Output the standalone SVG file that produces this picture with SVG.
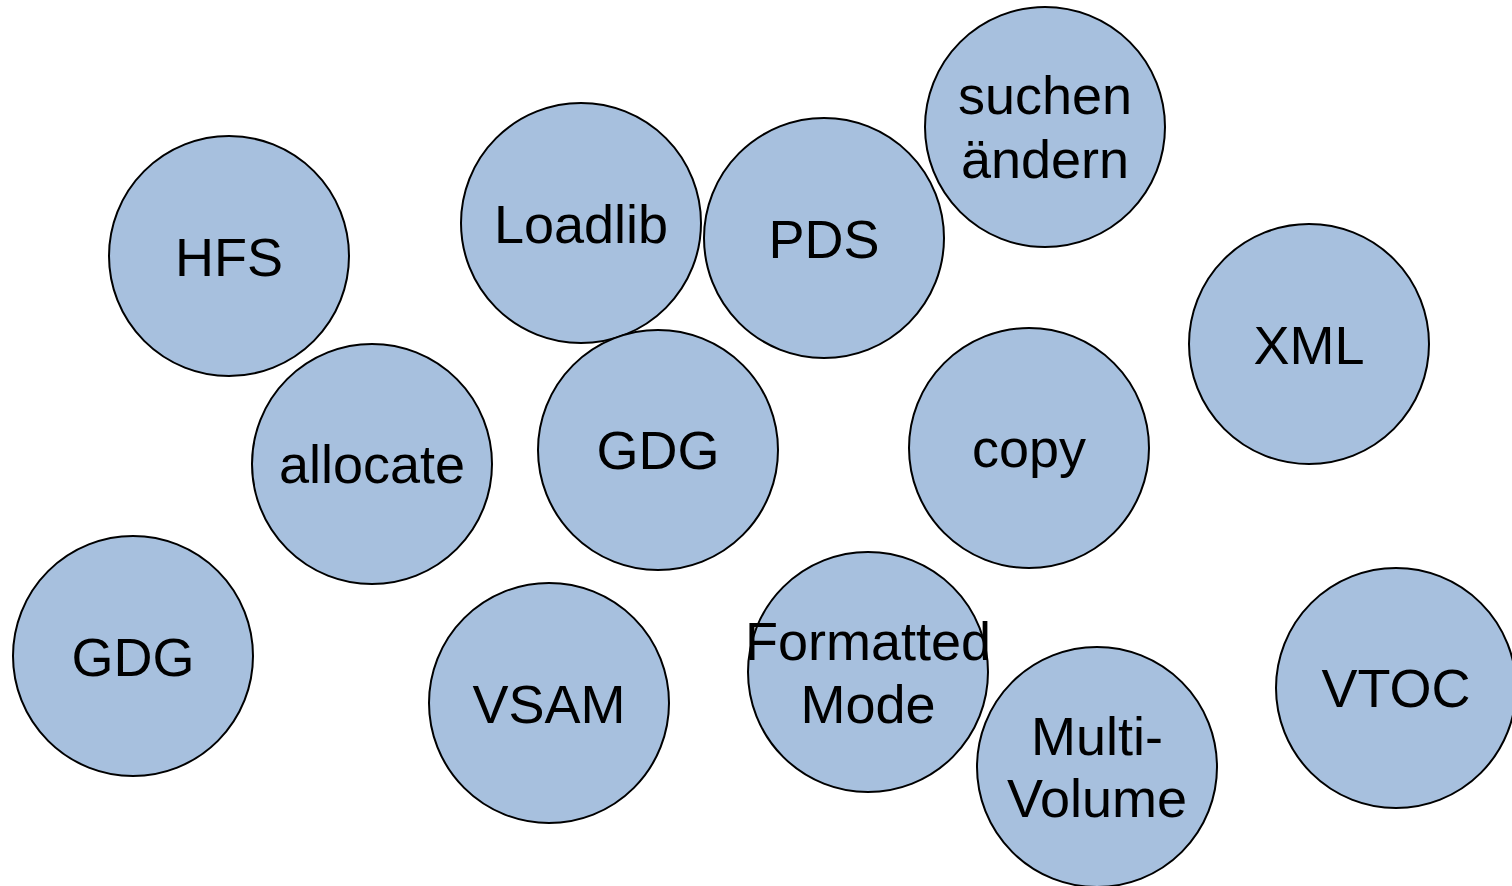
<svg xmlns="http://www.w3.org/2000/svg" width="1512" height="886" viewBox="0 0 1512 886">
<style>
.n circle{fill:#a7c0de;stroke:#000;stroke-width:2}
.n text{font-family:"Liberation Sans",Arial,sans-serif;font-size:54px;fill:#000;text-anchor:middle}
</style>
<rect width="1512" height="886" fill="#fff"/>
<g id="connectors"></g>
<g id="hfs" class="n"><circle cx="229" cy="256" r="120"/><text x="229" y="276">HFS</text></g>
<g id="loadlib" class="n"><circle cx="581" cy="223" r="120"/><text x="581" y="243">Loadlib</text></g>
<g id="pds" class="n"><circle cx="824" cy="238" r="120"/><text x="824" y="258">PDS</text></g>
<g id="suchen" class="n"><circle cx="1045" cy="127" r="120"/><text x="1045" y="114">suchen</text><text x="1045" y="178">ändern</text></g>
<g id="xml" class="n"><circle cx="1309" cy="344" r="120"/><text x="1309" y="364">XML</text></g>
<g id="allocate" class="n"><circle cx="372" cy="464" r="120"/><text x="372" y="483">allocate</text></g>
<g id="gdg1" class="n"><circle cx="658" cy="450" r="120"/><text x="658" y="469">GDG</text></g>
<g id="copy" class="n"><circle cx="1029" cy="448" r="120"/><text x="1029" y="467">copy</text></g>
<g id="gdg2" class="n"><circle cx="133" cy="656" r="120"/><text x="133" y="676">GDG</text></g>
<g id="vsam" class="n"><circle cx="549" cy="703" r="120"/><text x="549" y="723">VSAM</text></g>
<g id="formatted" class="n"><circle cx="868" cy="672" r="120"/><text x="868" y="660">Formatted</text><text x="868" y="723">Mode</text></g>
<g id="multivolume" class="n"><circle cx="1097" cy="767" r="120"/><text x="1097" y="755">Multi-</text><text x="1097" y="817">Volume</text></g>
<g id="vtoc" class="n"><circle cx="1396" cy="688" r="120"/><text x="1396" y="707">VTOC</text></g>
</svg>
